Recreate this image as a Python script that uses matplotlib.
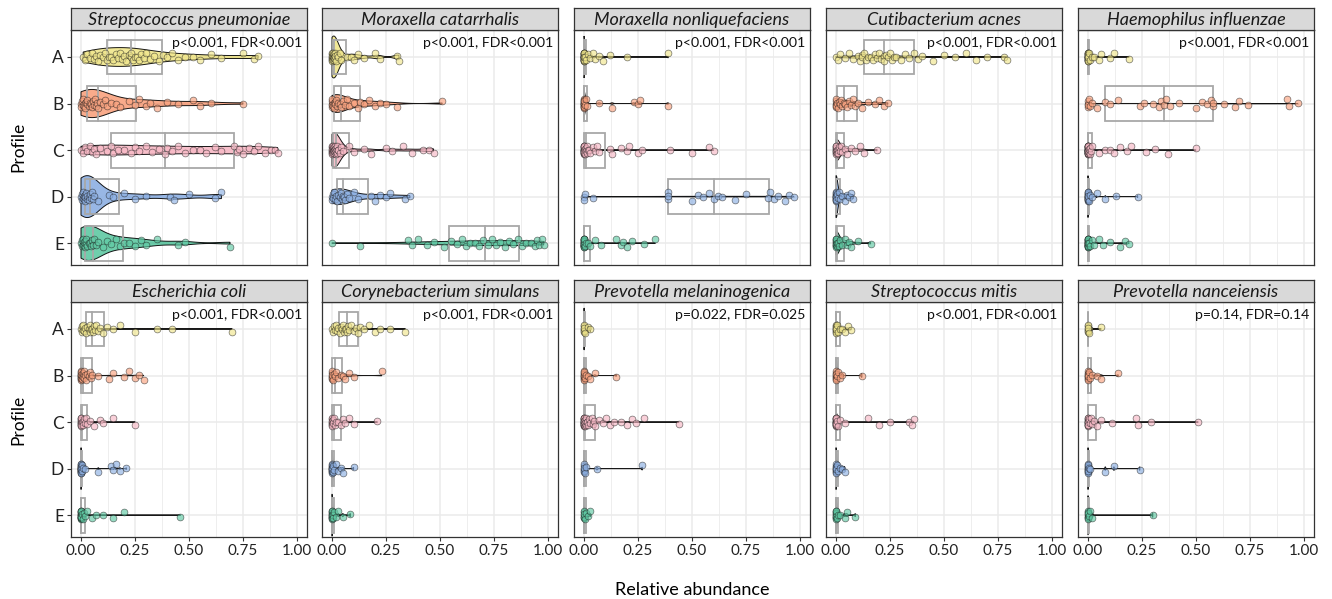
import numpy as np
import matplotlib
matplotlib.use('Agg')
import matplotlib.pyplot as plt
from matplotlib.patches import Rectangle, Polygon

plt.rcParams['font.family'] = ['Lato', 'DejaVu Sans']

profiles = ['A', 'B', 'C', 'D', 'E']
colors = ['#F0E68C', '#F9A27F', '#F7B8C5', '#8DB0E3', '#5FC9A3']

species = ['Streptococcus pneumoniae', 'Moraxella catarrhalis', 'Moraxella nonliquefaciens',
           'Cutibacterium acnes', 'Haemophilus influenzae', 'Escherichia coli',
           'Corynebacterium simulans', 'Prevotella melaninogenica', 'Streptococcus mitis',
           'Prevotella nanceiensis']
pvals = ['p<0.001, FDR<0.001', 'p<0.001, FDR<0.001', 'p<0.001, FDR<0.001',
         'p<0.001, FDR<0.001', 'p<0.001, FDR<0.001', 'p<0.001, FDR<0.001',
         'p<0.001, FDR<0.001', 'p=0.022, FDR=0.025', 'p<0.001, FDR<0.001',
         'p=0.14, FDR=0.14']

# relative abundance per profile (A..E) for each species
s_pneumoniae = [
    [0.01, 0.02, 0.03, 0.04, 0.05, 0.06, 0.07, 0.08, 0.09, 0.10, 0.11, 0.12, 0.13, 0.14, 0.15, 0.16,
     0.17, 0.18, 0.19, 0.20, 0.21, 0.22, 0.23, 0.23, 0.24, 0.25, 0.26, 0.27, 0.28, 0.29, 0.30, 0.32,
     0.34, 0.36, 0.38, 0.40, 0.42, 0.45, 0.48, 0.52, 0.55, 0.60, 0.65, 0.75, 0.80, 0.82],
    [0.0, 0.0, 0.005, 0.01, 0.01, 0.015, 0.02, 0.02, 0.025, 0.03, 0.03, 0.035, 0.04, 0.045, 0.05,
     0.055, 0.06, 0.065, 0.07, 0.075, 0.08, 0.09, 0.1, 0.11, 0.12, 0.14, 0.16, 0.18, 0.22, 0.25, 0.27,
     0.3, 0.32, 0.35, 0.4, 0.45, 0.52, 0.55, 0.6, 0.75],
    [0.0, 0.01, 0.02, 0.03, 0.04, 0.05, 0.06, 0.07, 0.09, 0.12, 0.14, 0.15, 0.17, 0.2, 0.23, 0.25, 0.27,
     0.3, 0.33, 0.36, 0.39, 0.4, 0.42, 0.45, 0.48, 0.52, 0.55, 0.58, 0.62, 0.65, 0.71, 0.72, 0.73, 0.75,
     0.78, 0.8, 0.82, 0.85, 0.88, 0.9, 0.91],
    [0.0, 0.003, 0.005, 0.008, 0.01, 0.012, 0.015, 0.018, 0.02, 0.02, 0.025, 0.028, 0.03, 0.035, 0.038,
     0.04, 0.045, 0.05, 0.055, 0.06, 0.08, 0.13, 0.15, 0.2, 0.25, 0.3, 0.41, 0.43, 0.5, 0.62, 0.65],
    [0.0, 0.003, 0.005, 0.008, 0.01, 0.012, 0.015, 0.018, 0.02, 0.022, 0.025, 0.03, 0.035, 0.04, 0.045,
     0.05, 0.055, 0.06, 0.07, 0.08, 0.1, 0.12, 0.14, 0.16, 0.18, 0.2, 0.22, 0.25, 0.28, 0.3, 0.35, 0.45,
     0.48, 0.69],
]
m_catarrhalis = [
    [0.0, 0.0, 0.0, 0.0, 0.0, 0.0, 0.001, 0.002, 0.003, 0.004, 0.005, 0.006, 0.007, 0.008, 0.009, 0.01,
     0.011, 0.012, 0.013, 0.015, 0.02, 0.025, 0.03, 0.035, 0.04, 0.07, 0.09, 0.1, 0.12, 0.15, 0.2, 0.22,
     0.3, 0.31],
    [0.0, 0.0, 0.0, 0.0, 0.002, 0.005, 0.008, 0.01, 0.012, 0.015, 0.02, 0.025, 0.03, 0.035, 0.04, 0.05,
     0.06, 0.07, 0.08, 0.1, 0.12, 0.13, 0.15, 0.17, 0.2, 0.22, 0.25, 0.3, 0.51],
    [0.0, 0.0, 0.0, 0.0, 0.0, 0.0, 0.001, 0.002, 0.003, 0.004, 0.005, 0.006, 0.007, 0.008, 0.009, 0.01,
     0.011, 0.012, 0.014, 0.015, 0.017, 0.018, 0.02, 0.022, 0.025, 0.028, 0.03, 0.035, 0.04, 0.05,
     0.08, 0.1, 0.15, 0.18, 0.25, 0.28, 0.33, 0.37, 0.42, 0.45, 0.47],
    [0.0, 0.0, 0.003, 0.005, 0.01, 0.015, 0.02, 0.025, 0.03, 0.035, 0.04, 0.045, 0.05, 0.055, 0.06,
     0.07, 0.08, 0.1, 0.12, 0.18, 0.2, 0.22, 0.25, 0.27, 0.34, 0.36],
    [0.0, 0.13, 0.35, 0.37, 0.4, 0.44, 0.47, 0.52, 0.55, 0.58, 0.6, 0.62, 0.64, 0.66, 0.68, 0.7, 0.72,
     0.74, 0.76, 0.78, 0.8, 0.82, 0.84, 0.86, 0.88, 0.9, 0.92, 0.94, 0.95, 0.96, 0.97, 0.98],
]
m_nonliquefaciens = [
    [0.0, 0.0, 0.0, 0.0, 0.0, 0.0, 0.0, 0.0, 0.0, 0.0, 0.0, 0.0, 0.0, 0.0, 0.0, 0.0, 0.0, 0.0,
     0.0, 0.0, 0.0, 0.0, 0.0, 0.0, 0.0, 0.0,
     0.005, 0.01, 0.02, 0.03, 0.04, 0.05, 0.07, 0.09, 0.12, 0.2, 0.39],
    [0.0, 0.0, 0.0, 0.0, 0.0, 0.0, 0.0, 0.0, 0.0, 0.0, 0.0, 0.0, 0.0, 0.0, 0.0,
     0.002, 0.005, 0.01, 0.015, 0.07, 0.13, 0.23, 0.25, 0.26, 0.39],
    [0.0, 0.0, 0.0, 0.0, 0.0, 0.0, 0.0, 0.0, 0.0, 0.0, 0.0, 0.0, 0.0, 0.0, 0.0, 0.0, 0.0, 0.0,
     0.002, 0.004, 0.005, 0.008, 0.01, 0.012, 0.015, 0.02, 0.025, 0.03, 0.04, 0.05, 0.06, 0.07,
     0.12, 0.13, 0.17, 0.2, 0.21, 0.25, 0.27, 0.4, 0.5, 0.58, 0.6],
    [0.0, 0.0, 0.005, 0.04, 0.39, 0.39, 0.39, 0.5, 0.53, 0.55, 0.58, 0.6, 0.62, 0.64, 0.7, 0.75,
     0.85, 0.86, 0.88, 0.9, 0.93, 0.95, 0.97],
    [0.0, 0.0, 0.0, 0.0, 0.0, 0.0, 0.0, 0.0, 0.0, 0.0, 0.0, 0.0, 0.0, 0.0, 0.0, 0.0, 0.0, 0.0,
     0.0, 0.0, 0.0, 0.0, 0.0, 0.0,
     0.005, 0.01, 0.02, 0.03, 0.05, 0.08, 0.15, 0.17, 0.18, 0.2, 0.22, 0.28, 0.33],
]
c_acnes = [
    [0.0, 0.01, 0.02, 0.04, 0.06, 0.08, 0.1, 0.11, 0.12, 0.12, 0.13, 0.14, 0.15, 0.16, 0.17, 0.18, 0.19,
     0.2, 0.21, 0.22, 0.22, 0.23, 0.24, 0.25, 0.26, 0.27, 0.28, 0.3, 0.32, 0.34, 0.36, 0.38, 0.4,
     0.45, 0.5, 0.55, 0.6, 0.65, 0.7, 0.78, 0.79],
    [0.0, 0.0, 0.0, 0.0, 0.0, 0.0, 0.005, 0.01, 0.015, 0.02, 0.025, 0.03, 0.035, 0.04, 0.05, 0.06,
     0.07, 0.08, 0.09, 0.1, 0.12, 0.15, 0.18, 0.2, 0.22, 0.24],
    [0.0, 0.0, 0.0, 0.0, 0.0, 0.0, 0.0, 0.0, 0.0, 0.0, 0.0, 0.003, 0.005, 0.008, 0.01, 0.015, 0.02,
     0.025, 0.03, 0.04, 0.05, 0.07, 0.09, 0.11, 0.13, 0.19],
    [0.0, 0.0, 0.0, 0.0, 0.0, 0.0, 0.0, 0.0, 0.0, 0.0, 0.0, 0.0, 0.0, 0.0, 0.002, 0.005, 0.01, 0.015,
     0.02, 0.03, 0.04, 0.05, 0.06, 0.07, 0.08],
    [0.0, 0.0, 0.0, 0.0, 0.0, 0.0, 0.0, 0.0, 0.0, 0.0, 0.0, 0.003, 0.006, 0.01, 0.015, 0.02, 0.03,
     0.04, 0.05, 0.06, 0.07, 0.1, 0.16],
]
h_influenzae = [
    [0.0, 0.0, 0.0, 0.0, 0.0, 0.0, 0.0, 0.0, 0.0, 0.0, 0.0, 0.0, 0.0, 0.0, 0.0, 0.0, 0.0, 0.0,
     0.0, 0.0, 0.0, 0.0, 0.002, 0.005, 0.01, 0.02, 0.03, 0.05, 0.06, 0.1, 0.12, 0.19],
    [0.0, 0.0, 0.0, 0.0, 0.005, 0.01, 0.02, 0.04, 0.08, 0.1, 0.14, 0.24, 0.26, 0.3, 0.33, 0.34, 0.35,
     0.36, 0.38, 0.42, 0.5, 0.53, 0.55, 0.57, 0.58, 0.58, 0.63, 0.68, 0.7, 0.74, 0.92, 0.93, 0.97],
    [0.0, 0.0, 0.0, 0.0, 0.0, 0.0, 0.0, 0.0, 0.0, 0.0, 0.0, 0.0, 0.0, 0.0, 0.0, 0.0, 0.0, 0.0,
     0.0, 0.0, 0.0, 0.0, 0.0, 0.0, 0.0, 0.0, 0.0, 0.0, 0.0, 0.0,
     0.002, 0.003, 0.005, 0.008, 0.01, 0.015, 0.02, 0.05, 0.08, 0.1, 0.12, 0.15, 0.18, 0.2, 0.27,
     0.31, 0.37, 0.5],
    [0.0, 0.0, 0.0, 0.0, 0.0, 0.0, 0.0, 0.0, 0.0, 0.0, 0.0, 0.0, 0.0, 0.0, 0.0, 0.0, 0.0, 0.0,
     0.0, 0.0, 0.005, 0.01, 0.02, 0.04, 0.08, 0.13, 0.23],
    [0.0, 0.0, 0.0, 0.0, 0.0, 0.0, 0.0, 0.0, 0.0, 0.0, 0.0, 0.0, 0.0, 0.0, 0.0, 0.0, 0.0, 0.0,
     0.0, 0.0, 0.0, 0.0, 0.0, 0.0, 0.0, 0.0, 0.005, 0.01, 0.02, 0.03, 0.05, 0.07, 0.1, 0.15,
     0.17, 0.19],
]
e_coli = [
    [0.0, 0.003, 0.005, 0.008, 0.01, 0.015, 0.02, 0.025, 0.03, 0.035, 0.04, 0.04, 0.045, 0.05, 0.055,
     0.06, 0.065, 0.07, 0.08, 0.09, 0.1, 0.12, 0.15, 0.18, 0.25, 0.35, 0.42, 0.7],
    [0.0, 0.0, 0.0, 0.0, 0.0, 0.0, 0.0, 0.0, 0.0, 0.0, 0.0, 0.0, 0.002, 0.004, 0.005, 0.008, 0.01,
     0.012, 0.015, 0.02, 0.025, 0.03, 0.035, 0.04, 0.045, 0.05, 0.08, 0.13, 0.15, 0.2, 0.22, 0.25,
     0.27, 0.29],
    [0.0, 0.0, 0.0, 0.0, 0.0, 0.0, 0.0, 0.0, 0.0, 0.0, 0.0, 0.002, 0.005, 0.008, 0.01, 0.015, 0.02,
     0.025, 0.03, 0.04, 0.06, 0.09, 0.1, 0.15, 0.25],
    [0.0, 0.0, 0.0, 0.0, 0.0, 0.0, 0.0, 0.0, 0.0, 0.0, 0.0, 0.0, 0.0, 0.0, 0.0, 0.0, 0.0, 0.0,
     0.0, 0.0, 0.0, 0.0, 0.0, 0.003, 0.006, 0.01, 0.02, 0.08, 0.14, 0.15, 0.16, 0.18, 0.21],
    [0.0, 0.0, 0.0, 0.0, 0.0, 0.0, 0.0, 0.0, 0.0, 0.0, 0.0, 0.0, 0.0, 0.0, 0.0, 0.0, 0.0, 0.0,
     0.002, 0.005, 0.01, 0.015, 0.02, 0.03, 0.05, 0.07, 0.1, 0.15, 0.2, 0.46],
]
c_simulans = [
    [0.0, 0.005, 0.01, 0.015, 0.02, 0.025, 0.03, 0.035, 0.04, 0.045, 0.05, 0.055, 0.06, 0.065, 0.07,
     0.075, 0.08, 0.09, 0.1, 0.11, 0.12, 0.13, 0.15, 0.17, 0.2, 0.22, 0.27, 0.34],
    [0.0, 0.0, 0.0, 0.0, 0.0, 0.0, 0.002, 0.005, 0.01, 0.015, 0.02, 0.03, 0.04, 0.05, 0.06, 0.08, 0.1,
     0.23],
    [0.0, 0.0, 0.0, 0.0, 0.0, 0.0, 0.0, 0.0, 0.003, 0.006, 0.01, 0.015, 0.02, 0.03, 0.04, 0.05, 0.06,
     0.08, 0.1, 0.21],
    [0.0, 0.0, 0.0, 0.0, 0.0, 0.0, 0.0, 0.0, 0.0, 0.0, 0.0, 0.0, 0.0, 0.0, 0.003, 0.006, 0.01, 0.02,
     0.03, 0.04, 0.05, 0.1],
    [0.0, 0.0, 0.0, 0.0, 0.0, 0.0, 0.0, 0.0, 0.0, 0.0, 0.0, 0.0, 0.0, 0.003, 0.006, 0.01, 0.02, 0.03,
     0.05, 0.085],
]
p_melaninogenica = [
    [0.0, 0.0, 0.0, 0.0, 0.0, 0.0, 0.0, 0.005, 0.02, 0.03],
    [0.0, 0.0, 0.0, 0.0, 0.0, 0.0, 0.0, 0.0, 0.0, 0.0, 0.0, 0.005, 0.01, 0.02, 0.03, 0.05, 0.15],
    [0.0, 0.0, 0.0, 0.0, 0.0, 0.0, 0.0, 0.0, 0.0, 0.0, 0.0, 0.0, 0.0, 0.0, 0.0, 0.0, 0.0, 0.0,
     0.001, 0.002, 0.003, 0.004, 0.006, 0.008, 0.01, 0.012, 0.015, 0.02, 0.025, 0.03, 0.035, 0.04,
     0.045, 0.05, 0.07, 0.09, 0.1, 0.12, 0.14, 0.17, 0.2, 0.22, 0.24, 0.28, 0.44],
    [0.0, 0.0, 0.0, 0.0, 0.0, 0.0, 0.0, 0.005, 0.01, 0.06, 0.27],
    [0.0, 0.0, 0.0, 0.0, 0.0, 0.0, 0.0, 0.005, 0.01, 0.02, 0.03],
]
s_mitis = [
    [0.0, 0.0, 0.0, 0.0, 0.0, 0.0, 0.0, 0.0, 0.0, 0.0, 0.005, 0.01, 0.02, 0.03, 0.04, 0.055, 0.07],
    [0.0, 0.0, 0.0, 0.0, 0.0, 0.0, 0.0, 0.0, 0.0, 0.005, 0.01, 0.02, 0.03, 0.12],
    [0.0, 0.0, 0.0, 0.0, 0.0, 0.0, 0.0, 0.0, 0.0, 0.0, 0.0, 0.0, 0.0, 0.0, 0.0, 0.0, 0.0, 0.0,
     0.002, 0.005, 0.01, 0.02, 0.04, 0.15, 0.2, 0.25, 0.34, 0.35, 0.36],
    [0.0, 0.0, 0.0, 0.0, 0.0, 0.0, 0.0, 0.0, 0.0, 0.0, 0.005, 0.01, 0.02, 0.03, 0.04],
    [0.0, 0.0, 0.0, 0.0, 0.0, 0.0, 0.0, 0.0, 0.0, 0.0, 0.0, 0.005, 0.01, 0.02, 0.04, 0.05, 0.09],
]
p_nanceiensis = [
    [0.0, 0.0, 0.0, 0.0, 0.0, 0.0, 0.0, 0.005, 0.06],
    [0.0, 0.0, 0.0, 0.0, 0.0, 0.0, 0.0, 0.0, 0.0, 0.0, 0.005, 0.01, 0.02, 0.04, 0.06, 0.14],
    [0.0, 0.0, 0.0, 0.0, 0.0, 0.0, 0.0, 0.0, 0.0, 0.0, 0.0, 0.0, 0.0, 0.0, 0.002, 0.005, 0.01, 0.015,
     0.02, 0.03, 0.04, 0.06, 0.11, 0.22, 0.23, 0.29, 0.51],
    [0.0, 0.0, 0.0, 0.0, 0.0, 0.0, 0.0, 0.0, 0.0, 0.0, 0.0, 0.0, 0.005, 0.01, 0.08, 0.12, 0.24],
    [0.0, 0.0, 0.0, 0.0, 0.0, 0.0, 0.0, 0.0, 0.0, 0.005, 0.01, 0.02, 0.3],
]

panels = [s_pneumoniae, m_catarrhalis, m_nonliquefaciens, c_acnes, h_influenzae,
          e_coli, c_simulans, p_melaninogenica, s_mitis, p_nanceiensis]

# vertical jitter pattern for the points
jitter = np.array([0.0, 0.07, -0.06, 0.03, -0.09, 0.05, -0.02, 0.09, -0.04, 0.01, -0.08, 0.06, -0.01])


def bw_nrd0(x):
    hi = np.std(x, ddof=1)
    iqr = np.percentile(x, 75) - np.percentile(x, 25)
    lo = min(hi, iqr / 1.34)
    if lo == 0:
        lo = hi if hi > 0 else 1.0
    return 0.9 * lo * len(x) ** -0.2


def kde(x, grid):
    bw = bw_nrd0(x)
    z = (grid[:, None] - x[None, :]) / bw
    return np.exp(-0.5 * z ** 2).sum(axis=1) / (len(x) * bw * np.sqrt(2 * np.pi))


W, H = 1332, 599
fig = plt.figure(figsize=(W / 100, H / 100), dpi=100)
lefts = [71, 322, 574, 826, 1078]
tops = [30, 302]
pw, ph, sh = 236, 235, 22
edge = '#333333'
boxc = '#A8A8A8'

for k, groups in enumerate(panels):
    r, c = divmod(k, 5)
    ax = fig.add_axes([lefts[c] / W, 1 - (tops[r] + ph) / H, pw / W, ph / H])
    ax.set_xlim(-0.0463, 1.0463)
    ax.set_ylim(5.47, 0.42)
    ax.set_xticks([0, 0.25, 0.5, 0.75, 1.0])
    ax.set_xticks([0.125, 0.375, 0.625, 0.875], minor=True)
    ax.set_yticks(range(1, 6))
    ax.grid(which='major', color='#EBEBEB', lw=1.1, zorder=0)
    ax.grid(which='minor', axis='x', color='#EBEBEB', lw=0.6, zorder=0)
    ax.set_axisbelow(True)
    for s in ax.spines.values():
        s.set_color(edge)
        s.set_linewidth(0.9)
    ax.tick_params(which='minor', length=0)
    ax.tick_params(which='major', length=3, color=edge, labelsize=11,
                   labelcolor='#222222', pad=2)
    if r == 1:
        ax.set_xticklabels(['0.00', '0.25', '0.50', '0.75', '1.00'])
    else:
        ax.tick_params(axis='x', length=0, labelbottom=False)
    if c == 0:
        ax.set_yticklabels(profiles, fontsize=12.5)
    else:
        ax.tick_params(axis='y', length=0, labelleft=False)

    # violins scaled by area across the panel
    dens = []
    for vals in groups:
        x = np.array(vals)
        grid = np.linspace(x.min(), x.max(), 512)
        dens.append((grid, kde(x, grid)))
    dmax = max(d.max() for _, d in dens)

    for i, vals in enumerate(groups):
        pos = i + 1
        x = np.array(vals)
        grid, d = dens[i]
        w = 0.45 * d / dmax
        verts = np.vstack([np.column_stack([grid, pos - w]),
                           np.column_stack([grid[::-1], pos + w[::-1]])])
        ax.add_patch(Polygon(verts, closed=True, fc=colors[i], ec='black', lw=0.7,
                             alpha=0.9, zorder=2))
        q1, med, q3 = np.percentile(x, [25, 50, 75])
        iqr = q3 - q1
        lo_w = x[x >= q1 - 1.5 * iqr].min()
        hi_w = x[x <= q3 + 1.5 * iqr].max()
        ax.plot([lo_w, q1], [pos, pos], color=boxc, lw=1.2, zorder=1)
        ax.plot([q3, hi_w], [pos, pos], color=boxc, lw=1.2, zorder=1)
        ax.add_patch(Rectangle((q1, pos - 0.375), q3 - q1, 0.75, fill=False,
                               ec=boxc, lw=1.3, zorder=3))
        ax.plot([med, med], [pos - 0.375, pos + 0.375], color=boxc, lw=1.3, zorder=3)
        jy = pos + np.resize(jitter, len(x))
        ax.scatter(x, jy, s=24, facecolors=matplotlib.colors.to_rgba(colors[i], 0.65),
                   edgecolors=(0.1, 0.1, 0.1, 0.6), linewidths=0.5, zorder=4)

    ax.text(0.979, 0.97, pvals[k], transform=ax.transAxes, ha='right', va='top',
            fontsize=10.2, color='#111111', zorder=5)

    sax = fig.add_axes([lefts[c] / W, 1 - tops[r] / H, pw / W, sh / H])
    sax.set_facecolor('#D9D9D9')
    sax.set_xticks([])
    sax.set_yticks([])
    for s in sax.spines.values():
        s.set_color(edge)
        s.set_linewidth(0.9)
    sax.text(0.5, 0.45, species[k], ha='center', va='center', fontsize=13,
             style='italic', color='#1A1A1A', transform=sax.transAxes)

fig.text(692.5 / W, 1 - 590 / H, 'Relative abundance', ha='center', va='center', fontsize=13)
fig.text(18 / W, 1 - 147 / H, 'Profile', ha='center', va='center', rotation=90, fontsize=12.5)
fig.text(18 / W, 1 - 420 / H, 'Profile', ha='center', va='center', rotation=90, fontsize=12.5)

fig.savefig('out.png', dpi=100)
